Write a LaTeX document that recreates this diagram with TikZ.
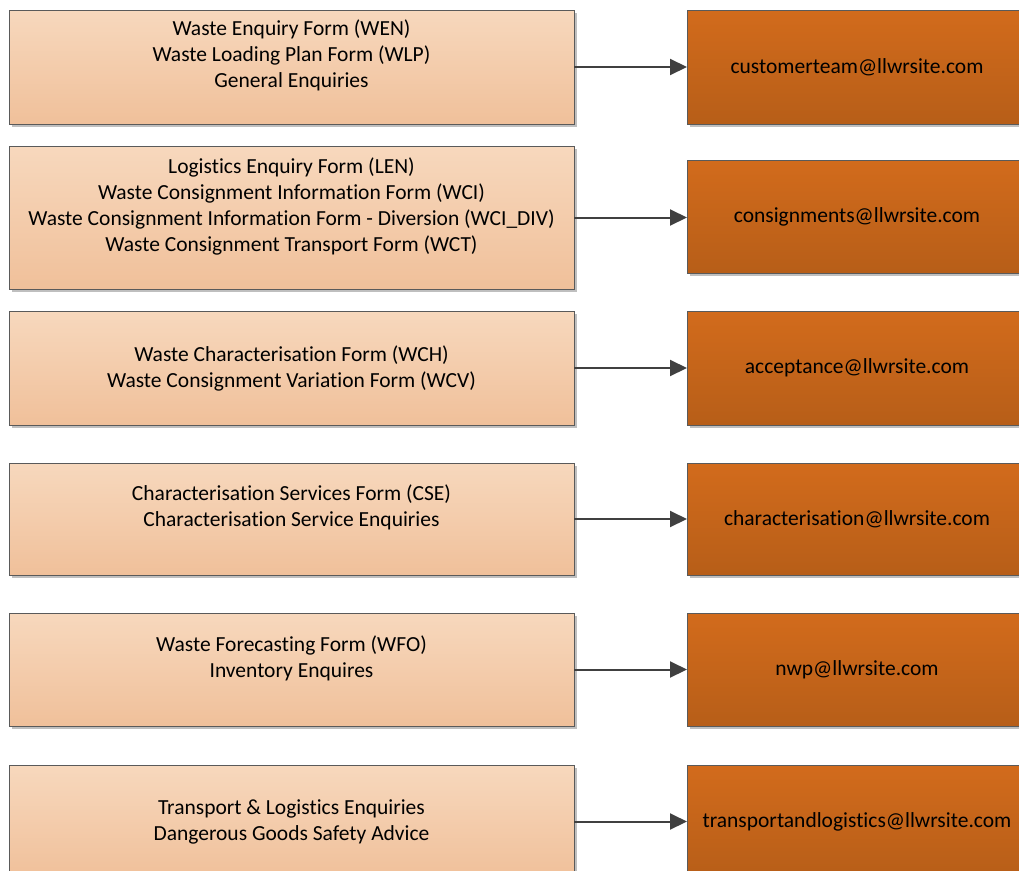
\documentclass[tikz,border=0pt]{standalone}
\usepackage{fontspec}
\setmainfont[Ligatures=NoCommon]{Carlito}
\usetikzlibrary{arrows.meta,shadows}
\definecolor{lefttop}{HTML}{F7D8BD}
\definecolor{leftbot}{HTML}{F0C09A}
\definecolor{righttop}{HTML}{D26B1C}
\definecolor{rightbot}{HTML}{B75E18}
\definecolor{edge}{HTML}{5A5A5A}
\definecolor{arrowc}{HTML}{404040}
\tikzset{
  boxbase/.style={rectangle, draw=edge, line width=0.9pt, inner sep=0pt, outer sep=0pt,
    align=center, font=\fontsize{21.5}{26}\selectfont,
    drop shadow={shadow xshift=3pt, shadow yshift=-3pt, opacity=0.25, fill=black}},
  leftbox/.style={boxbase, minimum width=565pt, top color=lefttop, bottom color=leftbot},
  rightbox/.style={boxbase, minimum width=350pt, top color=righttop, bottom color=rightbot},
  arr/.style={draw=arrowc, line width=2pt, -{Triangle[length=17pt,width=16pt]}}
}
\begin{document}
\begin{tikzpicture}[x=1pt,y=-1pt]
\useasboundingbox (0,0) rectangle (1019,870);
\node[leftbox, minimum height=114pt] (L1) at (291.5,67) {Waste Enquiry Form (WEN)\\Waste Loading Plan Form (WLP)\\General Enquiries\\~};
\node[leftbox, minimum height=143pt] (L2) at (291.5,217.5) {Logistics Enquiry Form (LEN)\\Waste Consignment Information Form (WCI)\\Waste Consignment Information Form - Diversion (WCI\_DIV)\\Waste Consignment Transport Form (WCT)\\~};
\node[leftbox, minimum height=114pt] (L3) at (291.5,368) {Waste Characterisation Form (WCH)\\Waste Consignment Variation Form (WCV)};
\node[leftbox, minimum height=112pt] (L4) at (291.5,519) {Characterisation Services Form (CSE)\\Characterisation Service Enquiries\\~};
\node[leftbox, minimum height=113pt] (L5) at (291.5,669.5) {Waste Forecasting Form (WFO)\\Inventory Enquires\\~};
\node[leftbox, minimum height=113pt] (L6) at (291.5,821.5) {Transport \& Logistics Enquiries\\Dangerous Goods Safety Advice};

\node[rightbox, minimum height=114pt, anchor=west] (R1) at (687,67) {\hspace*{-10pt}customerteam@llwrsite.com};
\node[rightbox, minimum height=113pt, anchor=west] (R2) at (687,216.5) {\hspace*{-10pt}consignments@llwrsite.com};
\node[rightbox, minimum height=114pt, anchor=west] (R3) at (687,368) {\hspace*{-10pt}acceptance@llwrsite.com};
\node[rightbox, minimum height=112pt, anchor=west] (R4) at (687,519) {\hspace*{-10pt}characterisation@llwrsite.com};
\node[rightbox, minimum height=113pt, anchor=west] (R5) at (687,669.5) {\hspace*{-10pt}nwp@llwrsite.com};
\node[rightbox, minimum height=113pt, anchor=west] (R6) at (687,821.5) {\hspace*{-10pt}transportandlogistics@llwrsite.com};

\draw[arr] (L1.east) -- (L1.east -| R1.west);
\draw[arr] (L2.east) -- (L2.east -| R2.west);
\draw[arr] (L3.east) -- (L3.east -| R3.west);
\draw[arr] (L4.east) -- (L4.east -| R4.west);
\draw[arr] (L5.east) -- (L5.east -| R5.west);
\draw[arr] (L6.east) -- (L6.east -| R6.west);
\end{tikzpicture}
\end{document}
